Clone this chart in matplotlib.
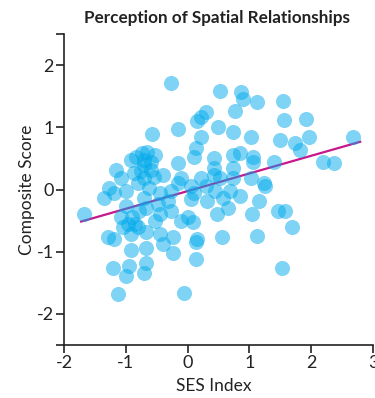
import matplotlib
matplotlib.use("Agg")
import matplotlib.pyplot as plt
import numpy as np

plt.rcParams["axes.unicode_minus"] = False

# --- data ---
ses = [-0.27, 0.53, 0.87, 0.90, 1.13, 1.55, 0.77, 0.29, 0.21, 0.16,
       1.56, 1.92, 0.50, 0.74, 1.03, 1.50, 1.74, 1.97, 1.82, 2.68,
       2.19, 2.37, 0.21, 0.13, 0.10, 0.42, 0.74, 0.85, 1.06, 1.06,
       1.39, 0.42, 0.73, 0.21, 0.42, 0.53, 0.74, 1.02, 1.23, -0.11,
       -0.58, -0.16, -0.84, -0.73, -0.71, -0.52, -1.16, -1.08, -0.87, -0.71,
       -0.39, -0.15, -1.27, -1.35, -1.19, -1.00, -0.81, -0.63, -0.71, -0.44,
       -0.27, -0.15, 0.10, 0.32, 0.05, 0.58, 0.65, 0.48, 1.15, 1.05,
       1.47, 1.58, 1.69, 0.00, 0.08, 0.13, 0.13, 0.56, 1.13, 1.53,
       -1.68, -1.08, -0.97, -0.81, -0.68, -0.48, -0.44, -0.32, -0.11, -1.29,
       -1.19, -0.92, -0.68, -0.44, -0.39, -0.24, -0.23, 0.16, -0.92, -0.68,
       -1.21, -0.95, -1.00, -0.68, -0.71, -1.13, -0.06, 1.26,
       -0.92, -0.60, -1.00, -0.79, 0.29, 0.45, 0.05, 0.85, 0.69, -0.27, -0.52,
       -0.70, -0.60, -0.75, -0.55, -0.65, -0.90, -0.85, -1.05]
score = [1.71, 1.58, 1.56, 1.45, 1.40, 1.42, 1.26, 1.24, 1.16, 1.10,
         1.11, 1.13, 1.00, 0.92, 0.85, 0.79, 0.74, 0.84, 0.63, 0.84,
         0.44, 0.42, 0.84, 0.66, 0.52, 0.50, 0.55, 0.58, 0.52, 0.45,
         0.45, 0.35, 0.34, 0.19, 0.23, 0.18, 0.19, 0.19, 0.10, 0.19,
         0.90, 0.97, 0.52, 0.58, 0.47, 0.55, 0.31, 0.19, 0.26, 0.19,
         0.23, 0.42, 0.03, -0.13, -0.06, -0.02, 0.10, 0.03, -0.13, -0.06,
         -0.02, 0.11, -0.06, -0.18, -0.16, -0.13, -0.29, -0.39, -0.18, -0.39,
         -0.34, -0.35, -0.61, -0.45, -0.53, -0.85, -1.11, -0.77, -0.74, -1.27,
         -0.39, -0.45, -0.55, -0.61, -0.29, -0.23, -0.39, -0.18, -0.50, -0.77,
         -0.79, -0.71, -0.69, -0.71, -0.87, -0.77, -1.02, -0.79, -0.98, -0.94,
         -1.26, -1.23, -1.39, -1.18, -1.34, -1.68, -1.66, 0.06,
         0.47, 0.31, -0.26, -0.34, 0.06, -0.02, 0.06, -0.10, -0.02, -0.34, -0.50,
         0.40, 0.45, 0.30, 0.20, 0.60, -0.45, -0.55, -0.60]

# fit line as drawn
fit_x = [-1.74, 2.81]
fit_slope = 0.284
fit_icept = -0.026

font = ["Lato", "DejaVu Sans"]

fig = plt.figure(figsize=(3.75, 3.98), dpi=100)
ax = fig.add_axes([64 / 375, 1 - 345 / 398, (373 - 64) / 375, (345 - 34) / 398])

fx = np.array(fit_x)
ax.plot(fx, fit_slope * fx + fit_icept, color="#c8168c", lw=1.6, zorder=1,
        solid_capstyle="butt")
ax.scatter(ses, score, s=118, color="#00aaec", alpha=0.5, linewidths=0, zorder=2)

ax.set_xlim(-2, 3)
ax.set_ylim(-2.5, 2.5)
ax.set_xticks([-2, -1, 0, 1, 2, 3])
ax.set_yticks([-2.5, -2, -1, 0, 1, 2, 2.5])
ax.set_yticklabels(["", "-2", "-1", "0", "1", "2", ""])

for side in ["top", "right"]:
    ax.spines[side].set_visible(False)
for side in ["left", "bottom"]:
    ax.spines[side].set_linewidth(1.2)
    ax.spines[side].set_color("#222222")
ax.tick_params(direction="out", length=5.5, width=1.2, color="#222222",
               labelsize=13, labelcolor="#222222", pad=2)
for lab in ax.get_xticklabels() + ax.get_yticklabels():
    lab.set_family(font)

fig.text(217 / 375, 1 - 18 / 398, "Perception of Spatial Relationships", ha="center",
         va="center", fontsize=12.3, fontweight="bold", family=font, color="#222222")
fig.text(27 / 375, 1 - 190 / 398, "Composite Score", rotation=90, ha="center",
         va="center", fontsize=12.5, family=font, color="#222222")
fig.text(214 / 375, 1 - 386 / 398, "SES Index", ha="center", va="center",
         fontsize=12.5, family=font, color="#222222")

fig.savefig("out.png", dpi=100)
